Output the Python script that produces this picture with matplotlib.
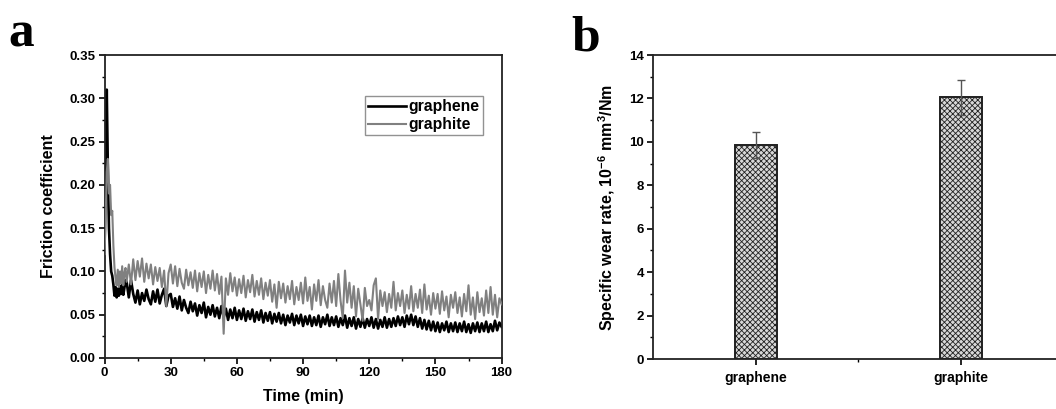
import numpy as np
import matplotlib
matplotlib.use("Agg")
import matplotlib.pyplot as plt
from matplotlib.ticker import MultipleLocator, FixedLocator, FormatStrFormatter

plt.rcParams['font.family'] = ['Liberation Sans', 'DejaVu Sans']
plt.rcParams['font.weight'] = 'bold'
plt.rcParams['mathtext.fontset'] = 'custom'
plt.rcParams['mathtext.rm'] = 'Liberation Sans:bold'
plt.rcParams['mathtext.it'] = 'Liberation Sans:bold'
plt.rcParams['mathtext.bf'] = 'Liberation Sans:bold'
plt.rcParams['hatch.linewidth'] = 0.6

# ---------------- data ----------------
time_early = np.arange(0, 10, 0.5)
time_late = np.arange(10, 181, 1)
time_min = np.concatenate([time_early, time_late])

graphene_early = [0.13, 0.20, 0.31, 0.22, 0.15, 0.12, 0.100, 0.095, 0.085, 0.072,
                  0.082, 0.070, 0.080, 0.072, 0.083, 0.074, 0.086, 0.073, 0.081, 0.090]
graphene_late = [
    0.088, 0.070, 0.090, 0.074, 0.064, 0.078, 0.062, 0.075, 0.066, 0.079,
    0.068, 0.062, 0.077, 0.065, 0.079, 0.063, 0.073, 0.080, 0.060, 0.072,
    0.074, 0.059, 0.069, 0.057, 0.071, 0.055, 0.067, 0.058, 0.052, 0.065,
    0.054, 0.063, 0.049, 0.061, 0.052, 0.064, 0.047, 0.059, 0.050, 0.061,
    0.048, 0.058, 0.046, 0.060, 0.047, 0.057, 0.044, 0.056, 0.046, 0.058,
    0.044, 0.055, 0.045, 0.057, 0.043, 0.054, 0.045, 0.056, 0.042, 0.053,
    0.044, 0.055, 0.041, 0.052, 0.043, 0.053, 0.040, 0.051, 0.042, 0.052,
    0.040, 0.050, 0.038, 0.049, 0.041, 0.051, 0.038, 0.049, 0.040, 0.050,
    0.037, 0.048, 0.039, 0.049, 0.037, 0.047, 0.038, 0.049, 0.036, 0.047,
    0.039, 0.050, 0.037, 0.047, 0.038, 0.048, 0.036, 0.046, 0.038, 0.049,
    0.035, 0.046, 0.037, 0.047, 0.034, 0.045, 0.036, 0.046, 0.035, 0.045,
    0.037, 0.047, 0.035, 0.045, 0.034, 0.044, 0.036, 0.047, 0.035, 0.045,
    0.036, 0.046, 0.037, 0.048, 0.038, 0.047, 0.036, 0.049, 0.039, 0.050,
    0.038, 0.048, 0.036, 0.046, 0.034, 0.044, 0.033, 0.043, 0.032, 0.042,
    0.031, 0.041, 0.030, 0.040, 0.032, 0.042, 0.030, 0.040, 0.031, 0.041,
    0.030, 0.040, 0.031, 0.042, 0.030, 0.039, 0.029, 0.040, 0.031, 0.041,
    0.030, 0.040, 0.031, 0.042, 0.030, 0.039, 0.031, 0.043, 0.032, 0.041,
    0.036]
graphene_cof = np.array(graphene_early + graphene_late)

graphite_early = [0.12, 0.16, 0.215, 0.23, 0.19, 0.20, 0.165, 0.17, 0.13, 0.105,
                  0.092, 0.084, 0.102, 0.082, 0.100, 0.086, 0.106, 0.084, 0.098, 0.104]
graphite_late = [
    0.088, 0.108, 0.085, 0.114, 0.090, 0.112, 0.094, 0.115, 0.088, 0.109,
    0.092, 0.108, 0.085, 0.105, 0.089, 0.104, 0.082, 0.101, 0.060, 0.098,
    0.108, 0.086, 0.106, 0.083, 0.103, 0.087, 0.080, 0.102, 0.084, 0.099,
    0.081, 0.101, 0.077, 0.098, 0.082, 0.100, 0.075, 0.096, 0.080, 0.101,
    0.078, 0.097, 0.074, 0.094, 0.028, 0.092, 0.073, 0.098, 0.077, 0.093,
    0.072, 0.091, 0.075, 0.095, 0.070, 0.090, 0.076, 0.096, 0.071, 0.089,
    0.073, 0.092, 0.068, 0.087, 0.072, 0.090, 0.065, 0.085, 0.058, 0.088,
    0.069, 0.086, 0.064, 0.083, 0.068, 0.089, 0.062, 0.082, 0.067, 0.087,
    0.063, 0.093, 0.066, 0.082, 0.056, 0.085, 0.066, 0.090, 0.061, 0.083,
    0.067, 0.058, 0.086, 0.064, 0.089, 0.060, 0.097, 0.066, 0.046, 0.101,
    0.064, 0.087, 0.058, 0.083, 0.048, 0.080, 0.062, 0.043, 0.081, 0.060,
    0.067, 0.055, 0.084, 0.092, 0.045, 0.078, 0.060, 0.076, 0.053, 0.074,
    0.058, 0.088, 0.055, 0.075, 0.060, 0.078, 0.052, 0.073, 0.057, 0.083,
    0.054, 0.074, 0.058, 0.079, 0.052, 0.085, 0.056, 0.072, 0.050, 0.075,
    0.057, 0.074, 0.051, 0.077, 0.055, 0.071, 0.047, 0.073, 0.058, 0.076,
    0.052, 0.070, 0.048, 0.074, 0.054, 0.084, 0.050, 0.070, 0.045, 0.076,
    0.053, 0.069, 0.049, 0.078, 0.052, 0.082, 0.050, 0.073, 0.047, 0.069,
    0.062]
graphite_cof = np.array(graphite_early + graphite_late)

materials = ['graphene', 'graphite']
wear_rate = [9.85, 12.05]
wear_err = [0.6, 0.8]

# ---------------- figure ----------------
fig = plt.figure(figsize=(10.56, 4.09), dpi=100)

# panel a
axa = fig.add_axes([0.099, 0.1247, 0.376, 0.7408])
axa.plot(time_min, graphene_cof, color='black', lw=1.9, label='graphene', zorder=2)
axa.plot(time_min, graphite_cof, color='#808080', lw=1.5, label='graphite', zorder=3)
axa.set_xlim(0, 180)
axa.set_ylim(0, 0.35)
axa.xaxis.set_major_locator(MultipleLocator(30))
axa.xaxis.set_minor_locator(MultipleLocator(15))
axa.yaxis.set_major_locator(MultipleLocator(0.05))
axa.yaxis.set_minor_locator(MultipleLocator(0.025))
axa.yaxis.set_major_formatter(FormatStrFormatter('%.2f'))
axa.set_xlabel('Time (min)', fontsize=11.5, fontweight='bold', labelpad=7)
axa.set_ylabel('Friction coefficient', fontsize=11.5, fontweight='bold', labelpad=10)
leg = axa.legend(loc='upper right', bbox_to_anchor=(0.953, 0.865), fontsize=11.3,
                 frameon=True, fancybox=False, edgecolor='#777777',
                 handlelength=2.4, handletextpad=0.2, borderpad=0.2,
                 labelspacing=0.2, borderaxespad=0)
leg.get_frame().set_linewidth(1.0)
for t in leg.get_texts():
    t.set_fontweight('bold')

# panel b
axb = fig.add_axes([0.6184, 0.1222, 0.389, 0.7433])
xpos = np.arange(1, len(materials) + 1)
axb.bar(xpos, wear_rate, width=0.205, color='#d8d8d8', edgecolor='#222222',
        hatch='xxxxxx', linewidth=1.2, zorder=2)
axb.bar(xpos, wear_rate, width=0.205, color='none', edgecolor='#222222',
        linewidth=1.3, zorder=3)
axb.errorbar(xpos, wear_rate, yerr=wear_err, fmt='none', ecolor='#555555',
             elinewidth=1.0, capsize=3, capthick=1.0, zorder=4)
axb.set_xlim(0.5, 2.5)
axb.set_ylim(0, 14)
axb.xaxis.set_major_locator(FixedLocator(xpos))
axb.xaxis.set_minor_locator(FixedLocator([1.5]))
axb.set_xticklabels(materials)
axb.yaxis.set_major_locator(MultipleLocator(2))
axb.yaxis.set_minor_locator(MultipleLocator(1))
axb.set_ylabel(r'Specific wear rate, 10$^{-6}$ mm$^{3}$/Nm', fontsize=11.5,
               fontweight='bold', labelpad=8)

for ax in (axa, axb):
    for s in ax.spines.values():
        s.set_linewidth(1.3)
        s.set_color('#222222')
    ax.tick_params(which='major', direction='out', length=4.5, width=1.2,
                   labelsize=9.5, pad=2)
    ax.tick_params(which='minor', direction='out', length=2.5, width=1.0)
    for lab in ax.get_xticklabels() + ax.get_yticklabels():
        lab.set_fontweight('bold')
axb.tick_params(axis='x', which='major', labelsize=10, pad=4)

fig.text(0.008, 0.886, 'a', fontsize=37, fontweight='bold',
         family='Liberation Serif', va='baseline')
fig.text(0.541, 0.876, 'b', fontsize=37, fontweight='bold',
         family='Liberation Serif', va='baseline')

fig.savefig('out.png', dpi=100)
